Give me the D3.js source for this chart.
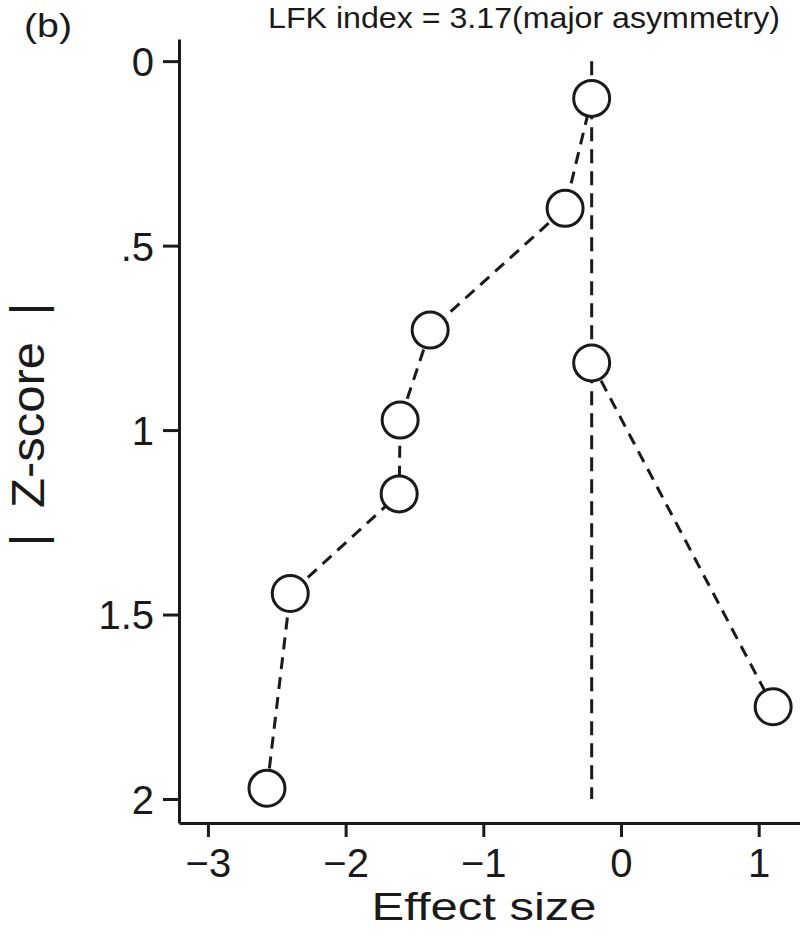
<!DOCTYPE html>
<html>
<head>
<meta charset="utf-8">
<script src="https://cdn.jsdelivr.net/npm/d3@7"></script>
<style>
  html, body { margin: 0; padding: 0; background: #fff; }
  svg { display: block; }
  text { font-family: "Liberation Sans", Arial, sans-serif; fill: #1a1a1a; }
</style>
</head>
<body>
<svg id="chart" width="800" height="941"></svg>
<script>
// ---- data ----
const leftLimbEffect = [-2.571, -2.402, -1.611, -1.604, -1.386, -0.406, -0.213];
const leftLimbZ      = [1.971, 1.443, 1.173, 0.973, 0.729, 0.399, 0.101];
const rightLimbEffect = [-0.213, 1.105];
const rightLimbZ      = [0.818, 1.750];
const referenceEffect = -0.213;
const referenceZRange = [0, 2];
const xTickValues = [-3, -2, -1, 0, 1];
const xTickLabels = ["\u22123", "\u22122", "\u22121", "0", "1"];
const yTickValues = [0, 0.5, 1, 1.5, 2];
const yTickLabels = ["0", ".5", "1", "1.5", "2"];
const titleText = "LFK index = 3.17(major asymmetry)";
const panelLabel = "(b)";
const xLabel = "Effect size";
const yLabel = "Z-score";

const svg = d3.select("#chart");
const x = d3.scaleLinear().domain([-3.21, 1.30]).range([179, 800]);
const y = d3.scaleLinear().domain([-0.06, 2.065]).range([39, 823]);

const ink = "#1a1a1a";

// axes
const xAxis = d3.axisBottom(x).tickValues(xTickValues)
  .tickFormat((d, i) => xTickLabels[i]).tickSize(14).tickPadding(14).tickSizeOuter(0);
const yAxis = d3.axisLeft(y).tickValues(yTickValues)
  .tickFormat((d, i) => yTickLabels[i]).tickSize(16).tickPadding(9).tickSizeOuter(0);

const gx = svg.append("g").attr("transform", "translate(0,823)").call(xAxis);
const gy = svg.append("g").attr("transform", "translate(179,0)").call(yAxis);
[gx, gy].forEach(g => {
  g.select(".domain").attr("stroke", ink).attr("stroke-width", 3);
  g.selectAll(".tick line").attr("stroke", ink).attr("stroke-width", 3);
  g.selectAll(".tick text").attr("font-size", 40).attr("fill", ink)
    .attr("font-family", "Liberation Sans, Arial, sans-serif");
});
gx.selectAll(".tick text").attr("dy", "0.71em").attr("y", 26);
gy.selectAll(".tick text").attr("dy", "0.36em");

// reference line
svg.append("line")
  .attr("x1", x(referenceEffect)).attr("x2", x(referenceEffect))
  .attr("y1", y(referenceZRange[0])).attr("y2", y(referenceZRange[1]))
  .attr("stroke", ink).attr("stroke-width", 3).attr("stroke-dasharray", "14,8");

// limbs
const line = d3.line().x(d => x(d[0])).y(d => y(d[1]));
const leftPts = leftLimbEffect.map((e, i) => [e, leftLimbZ[i]]);
const rightPts = rightLimbEffect.map((e, i) => [e, rightLimbZ[i]]);
[leftPts, rightPts].forEach(pts => {
  svg.append("path").datum(pts).attr("d", line)
    .attr("fill", "none").attr("stroke", ink).attr("stroke-width", 3)
    .attr("stroke-dasharray", "12,8");
});

// markers
svg.append("g").selectAll("circle").data(leftPts.concat(rightPts)).join("circle")
  .attr("cx", d => x(d[0])).attr("cy", d => y(d[1])).attr("r", 18)
  .attr("fill", "#fff").attr("stroke", ink).attr("stroke-width", 3);

// texts
svg.append("text").attr("x", 780).attr("y", 28).attr("text-anchor", "end")
  .attr("font-size", 30).attr("textLength", 512).attr("lengthAdjust", "spacingAndGlyphs")
  .text(titleText);
svg.append("text").attr("x", 24).attr("y", 37).attr("font-size", 34)
  .attr("textLength", 48).attr("lengthAdjust", "spacingAndGlyphs").text(panelLabel);
svg.append("text").attr("x", 484).attr("y", 920).attr("text-anchor", "middle")
  .attr("font-size", 39).attr("textLength", 225).attr("lengthAdjust", "spacingAndGlyphs")
  .text(xLabel);

const yl = svg.append("g").attr("transform", "translate(44,425) rotate(-90)");
yl.append("text").attr("x", 0).attr("y", 0).attr("text-anchor", "middle")
  .attr("font-size", 47).attr("textLength", 166).attr("lengthAdjust", "spacingAndGlyphs")
  .text(yLabel);
// vertical bars of |Z-score| drawn as text glyphs
yl.append("text").attr("x", -115).attr("y", 0).attr("text-anchor", "middle")
  .attr("font-size", 48).text("|");
yl.append("text").attr("x", 116).attr("y", 0).attr("text-anchor", "middle")
  .attr("font-size", 48).text("|");
</script>
</body>
</html>
